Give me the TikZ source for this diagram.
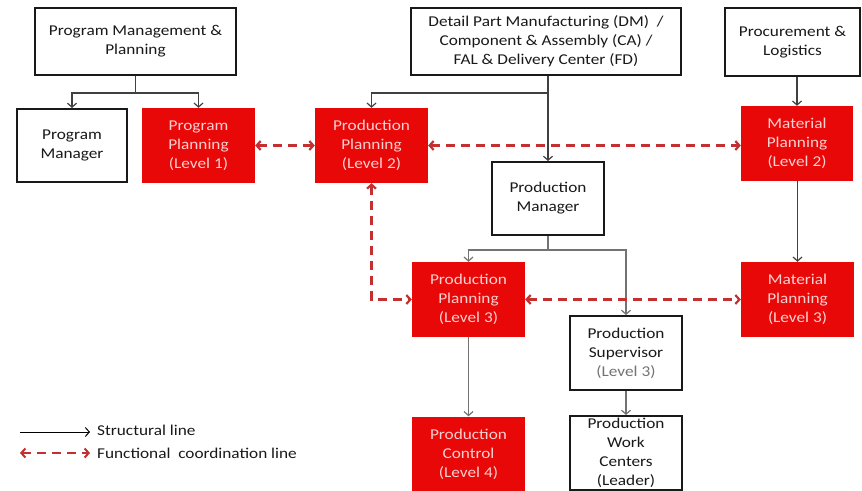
\documentclass[tikz,border=0pt]{standalone}
\usepackage{fontspec}
\setmainfont{Carlito}[FakeStretch=1.15]
\usetikzlibrary{arrows.meta}
\definecolor{boxred}{RGB}{232,8,8}
\definecolor{linkred}{RGB}{196,48,48}
\definecolor{paletext}{RGB}{250,208,208}
\definecolor{inktext}{RGB}{25,25,25}

\begin{document}
\begin{tikzpicture}[x=1pt,y=-1pt,>={Straight Barb[length=4pt,width=9pt]},
    font=\fontsize{15}{19}\selectfont]
\tikzset{
  orgbox/.style={draw=inktext,line width=2pt,fill=white,text=inktext,align=center,inner sep=2pt},
  planbox/.style={fill=boxred,text=paletext,align=center,inner sep=2pt,
    minimum width=113pt,minimum height=75pt},
  struct/.style={->,draw=black!75,line width=1.2pt},
  coord/.style={<->,draw=linkred,line width=2.2pt,dash pattern=on 9pt off 6pt},
}
\useasboundingbox (0,0) rectangle (862,490);
\clip (0,0) rectangle (862,490);

% top row
\node[orgbox,minimum width=201pt,minimum height=67pt] (pmp) at (135.5,41.5)
    {Program Management \&\\Planning};
\node[orgbox,minimum width=270pt,minimum height=67pt] (dm) at (546,41.5)
    {Detail Part Manufacturing (DM)~~/\\Component \& Assembly (CA) /\\FAL \& Delivery Center (FD)};
\node[orgbox,minimum width=135pt,minimum height=68pt] (pl) at (792.5,42)
    {Procurement \&\\Logistics};

% second row
\node[orgbox,minimum width=110pt,minimum height=73pt] (pm) at (72,145.5)
    {Program\\Manager};
\node[planbox] (pp1) at (198.5,145.5) {Program\\Planning\\(Level 1)};
\node[planbox] (pp2) at (371.5,145.5) {Production\\Planning\\(Level 2)};
\node[planbox,minimum width=112pt] (mp2) at (797,143.5) {Material\\Planning\\(Level 2)};
\node[orgbox,minimum width=112pt,minimum height=73pt] (pmgr) at (548,198.5)
    {Production\\Manager};

% third row
\node[planbox] (pp3) at (468.5,299.5) {Production\\Planning\\(Level 3)};
\node[planbox] (mp3) at (797.5,299.5) {Material\\Planning\\(Level 3)};
\node[orgbox,minimum width=112pt,minimum height=74pt] (ps) at (626,353)
    {Production\\Supervisor\\\textcolor{black!55}{(Level 3)}};

% bottom row
\node[planbox] (pc) at (468.5,454) {Production\\Control\\(Level 4)};
\node[orgbox,minimum width=112pt,minimum height=74pt] (pwc) at (626,453)
    {Production\\Work\\Centers\\(Leader)};

% structural lines
\draw[struct] (pmp.south) -- ++(0,17) -| (pm.north);
\draw[struct] (pmp.south) -- ++(0,17) -| (pp1.north);
\draw[struct] (pmgr.north |- dm.south) -- ++(0,17) -| (pp2.north);
\draw[struct] (pmgr.north |- dm.south) -- (pmgr.north);
\draw[struct] (mp2.north |- pl.south) -- (mp2.north);
\draw[struct] (mp3.north |- mp2.south) -- (mp3.north);
\draw[struct,draw=black!55] (pmgr.south) -- ++(0,14) -| (pp3.north);
\draw[struct,draw=black!55] (pmgr.south) -- ++(0,14) -| (ps.north);
\draw[struct,draw=black!55] (pp3.south) -- (pc.north);
\draw[struct,draw=black!55] (ps.south) -- (pwc.north);

% coordination lines
\draw[coord] (pp1.east) -- (pp2.west);
\draw[coord] (pp2.east) -- (pp2.east -| mp2.west);
\draw[coord] (pp2.south) |- (pp3.west);
\draw[coord] (pp3.east) -- (mp3.west);

% legend
\coordinate (sa) at (20,432);
\coordinate (sb) at (90,432);
\coordinate (fa) at (20,453);
\coordinate (fb) at (90,453);
\draw[->,draw=black,line width=1pt] (sa) -- (sb);
\draw[coord,line width=2pt] (fa) -- (fb);
\node[anchor=west,text=inktext,inner sep=0pt] (slab) at (97,430) {Structural line};
\node[anchor=west,text=inktext,inner sep=0pt] (flab) at (97,453) {Functional~~coordination line};
\end{tikzpicture}
\end{document}
